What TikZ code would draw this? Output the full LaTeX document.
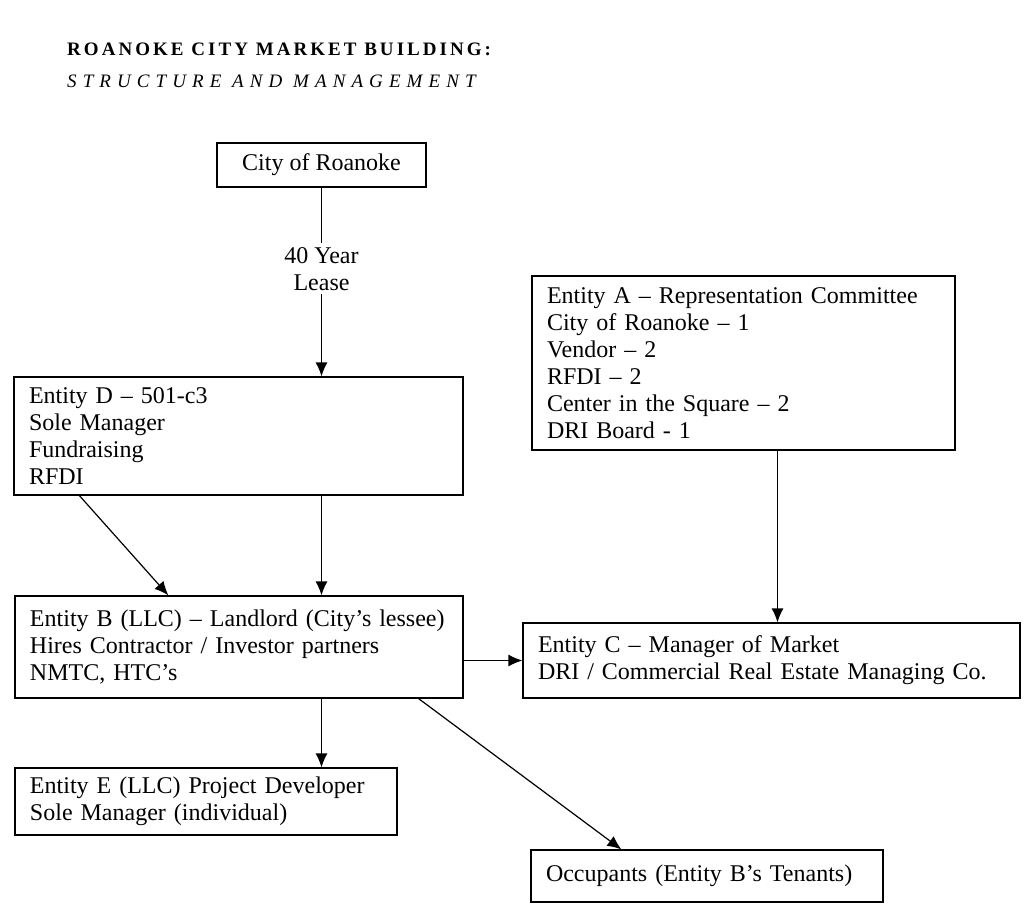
\documentclass[tikz,border=0pt]{standalone}
\usepackage{fontspec}
\setmainfont{Liberation Serif}
\newfontfamily\headfont[LetterSpace=16]{Liberation Serif}
\newfontfamily\subheadfont[LetterSpace=32]{Liberation Serif}
\usetikzlibrary{arrows.meta, positioning, calc}

\tikzset{
    entity/.style={draw, line width=1.2pt, inner xsep=15pt, inner ysep=0pt,
      align=left, font=\fontsize{24}{27}\selectfont},
    link/.style={-{Latex[length=14pt,width=12pt]}, line width=1.2pt},
    heading/.style={anchor=west, inner sep=0pt}
  }

\begin{document}
\begin{tikzpicture}[x=1pt, y=-1pt]
    \useasboundingbox (0,0) rectangle (1029,910);
    % title
    \node (title) [heading, font=\headfont\fontsize{19}{21}\selectfont\bfseries] at (67,49) {ROANOKE CITY MARKET BUILDING:};
    \node (subtitle) [heading, font=\subheadfont\fontsize{19}{21}\selectfont\itshape] at (67,81) {STRUCTURE AND MANAGEMENT};
    % boxes
    \node (city) [entity, align=center, minimum width=209, minimum height=44] at (321.5,165) {City of Roanoke};
    \node (entd) [entity, text width=419, minimum height=118] at (238.5,436) {Entity D -- 501-c3\\Sole Manager\\Fundraising\\RFDI};
    \node (enta) [entity, text width=393, minimum height=174] at (743.5,363) {Entity A -- Representation Committee\\City of Roanoke -- 1\\Vendor -- 2\\RFDI -- 2\\Center in the Square -- 2\\DRI Board - 1};
    \node (entb) [entity, text width=418, minimum height=102] at (239,647) {Entity B (LLC) -- Landlord (City's lessee)\\Hires Contractor / Investor partners\\NMTC, HTC's};
    \node (entc) [entity, text width=467, minimum height=75] at (771.5,660.5) {Entity C -- Manager of Market\\DRI / Commercial Real Estate Managing Co.};
    \node (ente) [entity, text width=352, minimum height=67] at (206,801.5) {Entity E (LLC) Project Developer\\Sole Manager (individual)};
    \node (occ) [entity, text width=322, minimum height=52] at (707,876) {Occupants (Entity B's Tenants)};
    % links
    \draw[link] (city) -- (entd.north -| city) node [pos=0.43, fill=white, align=center, inner sep=4pt, font=\fontsize{24}{27}\selectfont] {40 Year\\Lease};
    \draw[link] (entd.south -| city) -- (entb.north -| city);
    \draw[link] ($(entd.south west)+(66,0)$) -- ($(entb.north west)+(154,0)$);
    \coordinate (afoot) at ($(enta.south)+(34,0)$);
    \draw[link] (afoot) -- (entc.north -| afoot);
    \draw[link] (entb.east |- entc.west) -- (entc.west);
    \draw[link] (entb.south -| city) -- (ente.north -| city);
    \draw[link] ($(entb.south east)+(-45,0)$) -- ($(occ.north west)+(91,0)$);
\end{tikzpicture}
\end{document}
